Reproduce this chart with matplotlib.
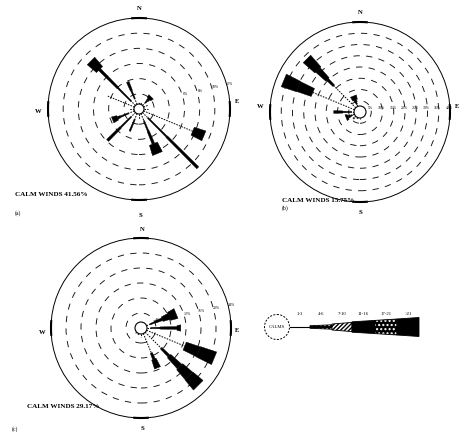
import numpy as np
import matplotlib
matplotlib.use("Agg")
import matplotlib.pyplot as plt
from matplotlib.patches import Circle, Polygon

# ---------------------------------------------------------------- data
DIRECTIONS = ["N", "NNE", "NE", "ENE", "E", "ESE", "SE", "SSE",
              "S", "SSW", "SW", "WSW", "W", "WNW", "NW", "NNW"]
SPEED_CLASSES = ["1-3", "4-6", "7-10", "11-16", "17-21", ">21"]

# frequency (%) of each speed class, one row per direction (N ... NNW)
freq_a = [
    [0.3, 0.0, 0.0, 0.0, 0.0, 0.0],   # N
    [0.3, 0.0, 0.0, 0.0, 0.0, 0.0],   # NNE
    [0.5, 0.4, 0.3, 0.4, 0.0, 0.0],   # NE
    [0.6, 0.0, 0.0, 0.0, 0.0, 0.0],   # ENE
    [0.5, 0.0, 0.0, 0.0, 0.0, 0.0],   # E
    [7.0, 0.0, 0.0, 0.0, 1.6, 0.0],   # ESE
    [1.0, 3.5, 5.8, 0.0, 0.0, 0.0],   # SE
    [1.0, 1.5, 1.8, 0.0, 1.4, 0.0],   # SSE
    [0.7, 0.0, 0.0, 0.0, 0.0, 0.0],   # S
    [0.8, 1.7, 0.0, 0.0, 0.0, 0.0],   # SSW
    [0.8, 2.0, 2.4, 0.0, 0.0, 0.0],   # SW
    [0.8, 1.2, 0.4, 0.7, 0.0, 0.0],   # WSW
    [0.6, 0.0, 0.0, 0.0, 0.0, 0.0],   # W
    [3.9, 0.0, 0.0, 0.0, 0.0, 0.0],   # WNW
    [0.8, 2.5, 3.4, 0.0, 1.6, 0.0],   # NW
    [0.8, 1.2, 1.2, 0.0, 0.0, 0.0],   # NNW
]
freq_b = [
    [0.0, 0.0, 0.0, 0.0, 0.0, 0.0],   # N
    [0.0, 0.0, 0.0, 0.0, 0.0, 0.0],   # NNE
    [0.0, 0.0, 0.0, 0.0, 0.0, 0.0],   # NE
    [0.0, 0.0, 0.0, 0.0, 0.0, 0.0],   # ENE
    [0.0, 0.0, 0.0, 0.0, 0.0, 0.0],   # E
    [0.0, 0.0, 0.0, 0.0, 0.0, 0.0],   # ESE
    [0.0, 0.0, 0.0, 0.0, 0.0, 0.0],   # SE
    [0.0, 0.0, 0.0, 0.0, 0.0, 0.0],   # SSE
    [0.5, 0.0, 0.0, 0.0, 0.0, 0.0],   # S
    [0.7, 0.0, 0.0, 0.0, 0.0, 0.0],   # SSW
    [1.0, 0.5, 0.0, 0.0, 0.0, 0.0],   # SW
    [1.0, 1.0, 1.0, 1.0, 0.0, 0.0],   # WSW
    [1.0, 4.0, 4.0, 0.0, 0.0, 0.0],   # W
    [20.0, 0.0, 0.0, 0.0, 7.0, 7.0],  # WNW
    [13.8, 0.0, 4.0, 6.0, 6.9, 0.0],  # NW
    [1.0, 1.0, 1.0, 2.0, 0.0, 0.0],   # NNW
]
freq_c = [
    [0.0, 0.0, 0.0, 0.0, 0.0, 0.0],   # N
    [0.0, 0.0, 0.0, 0.0, 0.0, 0.0],   # NNE
    [0.0, 0.0, 0.0, 0.0, 0.0, 0.0],   # NE
    [1.0, 1.5, 2.0, 2.0, 2.0, 0.0],   # ENE
    [1.0, 2.5, 4.5, 1.0, 0.0, 0.0],   # E
    [11.0, 0.0, 0.0, 0.0, 4.0, 4.5],  # ESE
    [6.0, 0.0, 3.0, 4.0, 3.5, 3.5],   # SE
    [5.6, 0.0, 1.8, 2.5, 0.0, 0.0],   # SSE
    [0.8, 0.0, 0.0, 0.0, 0.0, 0.0],   # S
    [0.5, 0.0, 0.0, 0.0, 0.0, 0.0],   # SSW
    [0.4, 0.0, 0.0, 0.0, 0.0, 0.0],   # SW
    [0.0, 0.0, 0.0, 0.0, 0.0, 0.0],   # WSW
    [0.0, 0.0, 0.0, 0.0, 0.0, 0.0],   # W
    [0.0, 0.0, 0.0, 0.0, 0.0, 0.0],   # WNW
    [0.0, 0.0, 0.0, 0.0, 0.0, 0.0],   # NW
    [0.0, 0.0, 0.0, 0.0, 0.0, 0.0],   # NNW
]
calm_a, calm_b, calm_c = 41.56, 15.75, 29.17
ring_step_a, ring_step_b, ring_step_c = 2, 5, 4      # % per ring
n_rings_a, n_rings_b, n_rings_c = 6, 8, 6
ring_labels_a = ["6%", "8%", "10%", "12%"]
ring_labels_b = ["5%", "10%", "15%", "20%", "25%", "30%", "35%", "40%"]
ring_labels_c = ["4%", "8%", "12%", "16%", "20%", "24%"]

# ---------------------------------------------------------------- style
W_PX, H_PX = 459, 432
SERIF = ["Liberation Serif", "DejaVu Serif"]
# half-widths (px) of a bar segment at its inner / outer end, per speed class
HW_IN = [0.0, 0.6, 1.1, 2.4, 4.3, 5.6]
HW_OUT = [0.0, 0.8, 1.4, 3.2, 5.3, 6.8]

fig = plt.figure(figsize=(W_PX / 100, H_PX / 100), dpi=100)
fig.patch.set_facecolor("white")


def fig_xy(x, y):
    return x / W_PX, 1 - y / H_PX


def rose(cx, cy, R, freq, step, n_rings, ring_labels, label_ang, calm_r=6,
         first_label_ring=1, label_off=2.0):
    M = 20
    s = R / (step * n_rings)            # px per %
    L = (R + M) / s
    ax = fig.add_axes([(cx - R - M) / W_PX, 1 - (cy + R + M) / H_PX,
                       2 * (R + M) / W_PX, 2 * (R + M) / H_PX])
    ax.set_xlim(-L, L)
    ax.set_ylim(-L, L)
    ax.axis("off")
    # rings
    for k in range(1, n_rings + 1):
        r = k * step
        if k < n_rings:
            ax.add_patch(Circle((0, 0), r, fill=False, lw=0.65, ec="#111111",
                                ls=(0, (7, 7))))
        else:
            ax.add_patch(Circle((0, 0), r, fill=False, lw=0.7, ec="black"))
    # thick marks on the outer circle at the cardinal points
    Rp = n_rings * step
    for ang in (0, 90, 180, 270):
        t = np.radians(np.linspace(ang - 5, ang + 5, 20))
        ax.plot(Rp * np.sin(t), Rp * np.cos(t), color="black", lw=1.5,
                solid_capstyle="butt")
    # bars
    r0 = calm_r / s
    for i, row in enumerate(freq):
        th = np.radians(i * 22.5)
        u = np.array([np.sin(th), np.cos(th)])
        p = np.array([np.cos(th), -np.sin(th)])
        r = r0
        for k, v in enumerate(row):
            if v <= 0:
                continue
            r1 = r + v
            if k == 0:
                ax.plot([r * u[0], r1 * u[0]], [r * u[1], r1 * u[1]],
                        color="black", lw=0.7, ls=(0, (1.6, 1.2)),
                        solid_capstyle="butt")
            else:
                a, b = HW_IN[k] / s, HW_OUT[k] / s
                verts = [r * u + a * p, r1 * u + b * p,
                         r1 * u - b * p, r * u - a * p]
                ax.add_patch(Polygon(verts, closed=True, fc="black",
                                     ec="black", lw=0.3))
            r = r1
    # calm circle
    ax.add_patch(Circle((0, 0), r0, fc="white", ec="black", lw=0.8, zorder=5))
    # ring labels
    la = np.radians(label_ang)
    for j, txt in enumerate(ring_labels):
        k = first_label_ring + j
        rr = k * step + label_off / s
        ax.text(rr * np.cos(la), rr * np.sin(la) + 2.0 / s, txt,
                fontsize=2.8, family=SERIF, ha="center", va="bottom",
                clip_on=False)
    return ax, s


def compass(ax, s, n, e, sth, w):
    for txt, (dx, dy) in zip("NESW", (n, e, sth, w)):
        ax.text(dx / s, -dy / s, txt, fontsize=4.8, fontweight="bold",
                family=SERIF, ha="center", va="center", clip_on=False)


ax_a, s_a = rose(139, 109, 91, freq_a, ring_step_a, n_rings_a,
                 ring_labels_a, 13, calm_r=5, first_label_ring=3)
compass(ax_a, s_a, (0, -101), (98, -8), (1, 106), (-101, 2))

ax_b, s_b = rose(360, 112, 90, freq_b, ring_step_b, n_rings_b,
                 ring_labels_b, 0, calm_r=6, first_label_ring=1,
                 label_off=-1.0)
compass(ax_b, s_b, (0, -99), (97, -5), (0, 100), (-100, -5))

ax_c, s_c = rose(141, 328, 90, freq_c, ring_step_c, n_rings_c,
                 ring_labels_c, 12, calm_r=6, first_label_ring=1)
compass(ax_c, s_c, (1, -98), (96, 2), (1, 101), (-99, 4))

# calm-wind captions and panel letters
for (x, y), val in zip([(15, 195), (282, 201), (27, 407)],
                       [calm_a, calm_b, calm_c]):
    fig.text(*fig_xy(x, y), f"CALM WINDS {val:.2f}%", fontsize=5.1,
             fontweight="bold", family=SERIF, ha="left", va="center")
for (x, y), lab in zip([(18, 213), (285, 208), (15, 429)],
                       ["(a)", "(b)", "(c)"]):
    fig.text(*fig_xy(x, y), lab, fontsize=4.2, family=SERIF,
             ha="center", va="center")

# ---------------------------------------------------------------- legend
ax_l = fig.add_axes([250 / W_PX, 1 - 360 / H_PX, 200 / W_PX, 70 / H_PX])
ax_l.set_xlim(250, 450)
ax_l.set_ylim(360, 290)
ax_l.axis("off")
ax_l.add_patch(Circle((277, 327), 12.5, fill=False, ec="black", lw=0.7,
                      ls=(0, (2, 1.5))))
ax_l.text(277, 327, "CALMS", fontsize=3.4, family=SERIF, ha="center",
          va="center")
seg_x = [290, 310, 332, 352, 375, 397, 419]
leg_hw_in = [0.4, 1.3, 3.0, 5.2, 6.6, 8.0]
leg_hw_out = [0.4, 2.2, 4.6, 6.6, 8.0, 9.5]
leg_hatch = [None, "....", "////////", None, "....", None]
leg_face = [None, "black", "white", "black", "black", "black"]
leg_hcol = [None, "white", "black", "black", "white", "black"]
yc = 327
for k, lab in enumerate(SPEED_CLASSES):
    x0, x1 = seg_x[k], seg_x[k + 1]
    if k == 0:
        ax_l.plot([x0, x1], [yc, yc], color="black", lw=0.8)
    else:
        a, b = leg_hw_in[k], leg_hw_out[k]
        verts = [(x0, yc - a), (x1, yc - b), (x1, yc + b), (x0, yc + a)]
        ax_l.add_patch(Polygon(verts, closed=True, fc=leg_face[k],
                               ec=leg_hcol[k], lw=0.0, hatch=leg_hatch[k]))
        ax_l.add_patch(Polygon(verts, closed=True, fill=False, ec="black",
                               lw=0.6))
    ax_l.text((x0 + x1) / 2, 316, lab, fontsize=3.4, family=SERIF,
              ha="center", va="bottom")

fig.savefig("out.png", dpi=100, facecolor="white")
